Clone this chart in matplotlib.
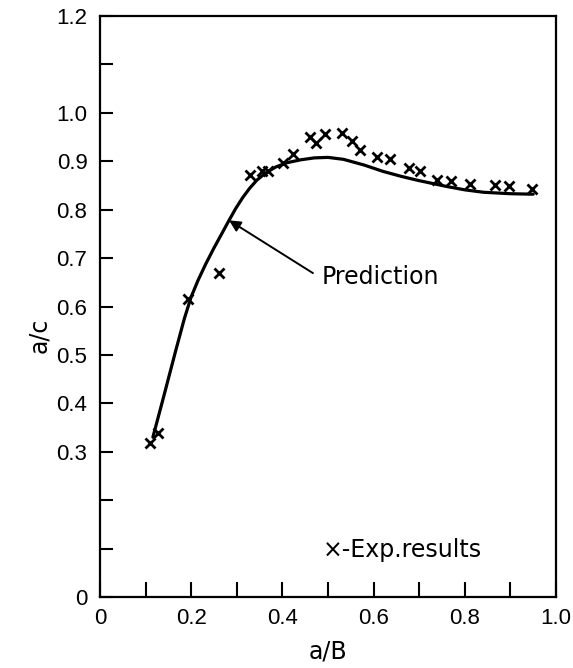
import matplotlib
matplotlib.use("Agg")
import matplotlib.pyplot as plt

plt.rcParams['font.family'] = ['Liberation Sans', 'DejaVu Sans']

# experimental results (x markers)
exp_x = [0.110, 0.127, 0.193, 0.262, 0.329, 0.355, 0.368, 0.401, 0.423, 0.461,
         0.473, 0.493, 0.530, 0.552, 0.571, 0.607, 0.637, 0.677, 0.702, 0.738,
         0.770, 0.811, 0.866, 0.898, 0.948]
exp_y = [0.318, 0.339, 0.616, 0.670, 0.872, 0.879, 0.879, 0.897, 0.915, 0.951,
         0.937, 0.956, 0.958, 0.942, 0.923, 0.909, 0.905, 0.886, 0.880, 0.862,
         0.860, 0.853, 0.850, 0.848, 0.843]

# prediction curve
pred_x = [0.116, 0.140, 0.165, 0.185, 0.200, 0.215, 0.232, 0.250, 0.268, 0.283,
          0.298, 0.313, 0.328, 0.344, 0.362, 0.385, 0.410, 0.440, 0.470, 0.500,
          0.534, 0.580, 0.621, 0.660, 0.695, 0.730, 0.760, 0.800, 0.841, 0.900,
          0.950]
pred_y = [0.330, 0.415, 0.505, 0.575, 0.620, 0.654, 0.688, 0.721, 0.752, 0.778,
          0.803, 0.825, 0.844, 0.861, 0.875, 0.888, 0.897, 0.903, 0.907, 0.908,
          0.904, 0.892, 0.879, 0.869, 0.861, 0.854, 0.848, 0.841, 0.836, 0.833,
          0.832]

xticks = [0, 0.1, 0.2, 0.3, 0.4, 0.5, 0.6, 0.7, 0.8, 0.9, 1.0]
xtick_labels = ['0', '', '0.2', '', '0.4', '', '0.6', '', '0.8', '', '1.0']
yticks = [0, 0.1, 0.2, 0.3, 0.4, 0.5, 0.6, 0.7, 0.8, 0.9, 1.0, 1.1, 1.2]
ytick_labels = ['0', '', '', '0.3', '0.4', '0.5', '0.6', '0.7', '0.8', '0.9', '1.0', '', '1.2']

fig = plt.figure(figsize=(5.73, 6.68), dpi=100)
ax = fig.add_axes([0.1745, 0.1063, 0.7958, 0.8697])

ax.plot(pred_x, pred_y, color='black', lw=2.3, solid_capstyle='round')
ax.plot(exp_x, exp_y, linestyle='none', marker='x', color='black',
        markersize=7, mew=2.0)

# arrow pointing at the prediction curve
ax.annotate('', xy=(0.283, 0.778), xytext=(0.467, 0.669),
            arrowprops=dict(arrowstyle='-|>', color='black', lw=1.4,
                            mutation_scale=17, shrinkA=0, shrinkB=0))
ax.text(0.486, 0.661, 'Prediction', fontsize=17, va='center', ha='left',
        family='DejaVu Sans')
ax.text(0.488, 0.097, '×-Exp.results', fontsize=17, va='center', ha='left',
        family='DejaVu Sans')

ax.set_xlim(0, 1.0)
ax.set_ylim(0, 1.2)
ax.set_xticks(xticks)
ax.set_xticklabels(xtick_labels)
ax.set_yticks(yticks)
ax.set_yticklabels(ytick_labels)
ax.tick_params(axis='x', direction='in', length=11, width=1.5, pad=8, labelsize=16)
ax.tick_params(axis='y', direction='in', length=9.5, width=1.5, pad=9, labelsize=16)
for s in ax.spines.values():
    s.set_linewidth(1.6)

ax.set_xlabel('a/B', fontsize=17, family='DejaVu Sans')
ax.set_ylabel('a/c', fontsize=17, family='DejaVu Sans')
ax.xaxis.set_label_coords(0.5, -0.074)
ax.yaxis.set_label_coords(-0.107, 0.45)

fig.savefig('out.png', dpi=100)
